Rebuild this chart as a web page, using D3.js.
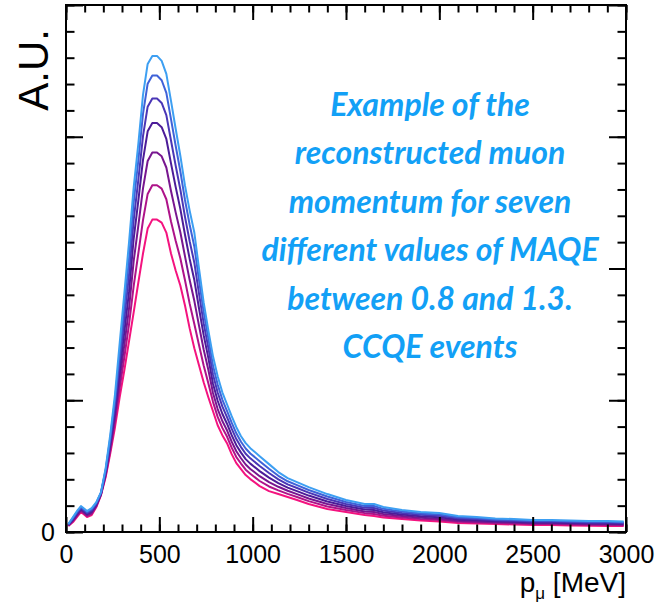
<!DOCTYPE html>
<html>
<head>
<meta charset="utf-8">
<script src="https://cdn.jsdelivr.net/npm/d3@7"></script>
<style>
  html, body { margin: 0; padding: 0; background: #fff; }
  svg { display: block; }
</style>
</head>
<body>
<div id="chart"></div>
<script>
// ---- data (arbitrary units) ----
const momentum = [12.5, 37.5, 62.5, 80, 100, 112.5, 137.5, 162.5, 187.5, 212.5, 237.5, 262.5, 287.5, 312.5, 337.5, 362.5, 387.5, 412.5, 437.5, 462.5, 487.5, 512.5, 537.5, 562.5, 587.5, 612.5, 637.5, 662.5, 687.5, 712.5, 737.5, 762.5, 787.5, 812.5, 837.5, 862.5, 887.5, 912.5, 937.5, 962.5, 987.5, 1037.5, 1087.5, 1137.5, 1187.5, 1237.5, 1300, 1400, 1500, 1600, 1650, 1700, 1800, 1900, 2000, 2100, 2200, 2300, 2400, 2500, 2600, 2700, 2800, 2900, 2987.5];

// MAQE = 0.8 (pink, lowest)
const ma080 = [6, 10, 16, 20, 17, 15, 17, 25, 37, 55, 79, 105, 135, 162, 191, 220, 250, 279, 304, 313, 313, 310, 300, 279, 262, 247, 227, 204, 184, 167, 150, 135, 121, 107, 97, 89, 78, 69, 63, 57, 53, 46, 41, 38, 35, 32, 28, 23, 20, 17, 16, 14.5, 13, 11.5, 10.5, 9, 8.5, 8, 7.5, 7, 7, 6.5, 6.3, 6, 6];
const ma088 = [6.3, 10.9, 17, 21, 18, 16, 18.2, 25.9, 37.5, 56.5, 82.2, 110.6, 144.2, 175.1, 207.8, 246.3, 279.2, 312.4, 338.7, 347.4, 347.4, 344, 333.4, 311.1, 291.8, 274.3, 252.2, 228.8, 208.4, 187.4, 166.8, 149.1, 130.4, 115.3, 104.3, 95.6, 84.5, 75.1, 68.6, 62.4, 58.3, 51.1, 45.6, 41.7, 38.2, 35.1, 30.9, 25.6, 22, 18.9, 18, 16.3, 14.5, 12.9, 11.9, 10.2, 9.6, 8.9, 8.4, 7.9, 7.9, 7.4, 7.1, 6.9, 6.8];
const ma097 = [6.7, 11.7, 18, 22, 19, 17, 19.3, 26.7, 38, 58, 85.3, 116, 152.8, 187.4, 223.7, 271.3, 307, 344.2, 371.7, 380.2, 380.2, 376.4, 365.2, 341.7, 320.2, 300.3, 276.2, 252.4, 231.6, 206.8, 182.8, 162.5, 139.2, 123.2, 111.2, 101.9, 90.5, 80.9, 73.9, 67.6, 63.2, 55.9, 49.9, 45.3, 41.3, 37.9, 33.6, 28, 24, 20.6, 20, 18, 16, 14.3, 13.3, 11.3, 10.6, 9.8, 9.3, 8.7, 8.7, 8.2, 7.9, 7.7, 7.5];
const ma105 = [7, 12.5, 19, 23, 20, 18, 20.5, 27.5, 38.5, 59.5, 88.5, 121.5, 162, 200.5, 240.5, 293.8, 332, 372.8, 401.4, 409.8, 409.8, 405.6, 393.8, 369.3, 345.8, 323.7, 297.8, 273.6, 252.4, 224.2, 197.2, 174.5, 148.5, 131.5, 118.5, 108.5, 97, 87, 79.5, 73, 68.5, 61, 54.5, 49, 44.5, 41, 36.5, 30.5, 26, 22.5, 22, 19.8, 17.5, 15.8, 14.8, 12.5, 11.8, 10.8, 10.3, 9.5, 9.5, 9, 8.7, 8.5, 8.3];
const ma113 = [7.3, 13.4, 20, 24, 21, 19, 21.7, 28.4, 39, 61, 91.7, 127, 171.2, 213.6, 257.3, 312.5, 352.9, 396.7, 426.1, 434.4, 434.4, 429.9, 417.7, 392.2, 367.1, 343.2, 315.8, 291.3, 269.8, 238.8, 209.2, 184.6, 157.9, 139.8, 125.8, 115.1, 103.5, 93.1, 85.1, 78.4, 73.8, 66.1, 59.1, 52.7, 47.7, 44.1, 39.4, 33, 28, 24.4, 24, 21.5, 19, 17.2, 16.2, 13.7, 12.9, 11.7, 11.2, 10.4, 10.4, 9.9, 9.4, 9.4, 9];
const ma122 = [7.7, 14.2, 21, 25, 22, 20, 22.8, 29.2, 39.5, 62.5, 94.8, 132.4, 179.8, 225.9, 273.2, 330, 372.3, 418.9, 449.2, 457.3, 457.3, 452.6, 439.9, 413.6, 387, 361.4, 332.6, 307.8, 286.1, 252.4, 220.4, 194, 166.7, 147.7, 132.7, 121.4, 109.5, 98.9, 90.4, 83.6, 78.7, 70.9, 63.4, 56.3, 50.8, 46.9, 42.1, 35.5, 30, 26.1, 26, 23.2, 20.5, 18.6, 17.6, 14.8, 13.9, 12.6, 12.1, 11.2, 11.2, 10.7, 10.2, 10.2, 9.7];
// MAQE = 1.3 (light blue, highest)
const ma130 = [8, 15, 22, 26, 23, 21, 24, 30, 40, 64, 98, 138, 189, 239, 290, 345, 389, 438, 469, 477, 477, 472, 459, 432, 404, 377, 347, 322, 300, 264, 230, 202, 176, 156, 140, 128, 116, 105, 96, 89, 84, 76, 68, 60, 54, 50, 45, 38, 32, 28, 28, 25, 22, 20, 19, 16, 15, 13.5, 13, 12, 12, 11.5, 11, 11, 10.5];

const seriesValues = [ma080, ma088, ma097, ma105, ma113, ma122, ma130];
const seriesColors = ["#f4137f", "#ae1389", "#78168f", "#4c1c98", "#4a36b6", "#3f62d8", "#3d9ff2"];

const xMajorTicks = [0, 500, 1000, 1500, 2000, 2500, 3000];
const xMinorTicks = d3.range(0, 3001, 100);
const yMajorTicks = [0, 132, 264, 396, 528];
const yMinorTicks = d3.range(0, 529, 26.4);
const yTickLabels = ["0", "", "", "", ""];

const noteLines = ["Example of the", "reconstructed muon", "momentum for seven", "different values of MAQE", "between 0.8 and 1.3.", "CCQE events"];

// ---- layout ----
const W = 664, H = 606;
const mLeft = 66, mRight = 626, mTop = 5, mBottom = 532;

const svg = d3.select("#chart").append("svg").attr("width", W).attr("height", H);

const x = d3.scaleLinear().domain([0, 3000]).range([mLeft, mRight]);
const y = d3.scaleLinear().domain([0, 528]).range([mBottom, mTop]);

const font = "'Liberation Sans', Arial, Helvetica, sans-serif";

// curves
const line = d3.line().x((d, i) => x(momentum[i])).y(d => y(d)).curve(d3.curveLinear);
svg.append("g").selectAll("path").data(seriesValues).join("path")
  .attr("d", d => line(d))
  .attr("fill", "none")
  .attr("stroke", (d, i) => seriesColors[i])
  .attr("stroke-width", 2)
  .attr("stroke-linejoin", "round");

// axes (ticks pointing inward)
function styleAxis(g) {
  g.select(".domain").remove();
  g.selectAll("line").attr("stroke", "#000").attr("stroke-width", 2);
  g.selectAll("text").attr("font-family", font).attr("font-size", 25).attr("fill", "#000");
}
svg.append("g").attr("transform", `translate(0,${mBottom})`)
  .call(d3.axisBottom(x).tickValues(xMinorTicks).tickSize(-7.5).tickFormat(""))
  .call(styleAxis);
svg.append("g").attr("transform", `translate(0,${mBottom})`)
  .call(d3.axisBottom(x).tickValues(xMajorTicks).tickSize(-15).tickPadding(13).tickFormat(d3.format("d")))
  .call(styleAxis);
svg.append("g").attr("transform", `translate(0,${mTop})`)
  .call(d3.axisTop(x).tickValues(xMinorTicks).tickSize(-7.5).tickFormat(""))
  .call(styleAxis);
svg.append("g").attr("transform", `translate(0,${mTop})`)
  .call(d3.axisTop(x).tickValues(xMajorTicks).tickSize(-15).tickFormat(""))
  .call(styleAxis);
svg.append("g").attr("transform", `translate(${mLeft},0)`)
  .call(d3.axisLeft(y).tickValues(yMinorTicks).tickSize(-8.5).tickFormat(""))
  .call(styleAxis);
svg.append("g").attr("transform", `translate(${mLeft},0)`)
  .call(d3.axisLeft(y).tickValues(yMajorTicks).tickSize(-17).tickPadding(11).tickFormat((d, i) => yTickLabels[i]))
  .call(styleAxis);
svg.append("g").attr("transform", `translate(${mRight},0)`)
  .call(d3.axisRight(y).tickValues(yMinorTicks).tickSize(-8.5).tickFormat(""))
  .call(styleAxis);
svg.append("g").attr("transform", `translate(${mRight},0)`)
  .call(d3.axisRight(y).tickValues(yMajorTicks).tickSize(-17).tickFormat(""))
  .call(styleAxis);

// frame
svg.append("rect").attr("x", mLeft).attr("y", mTop).attr("width", mRight - mLeft).attr("height", mBottom - mTop)
  .attr("fill", "none").attr("stroke", "#000").attr("stroke-width", 2);

// axis titles
const xt = svg.append("text").attr("x", mRight).attr("y", 592).attr("text-anchor", "end")
  .attr("font-family", font).attr("font-size", 28).attr("fill", "#000");
xt.append("tspan").text("p");
xt.append("tspan").attr("font-size", 17).attr("dy", 7).text("μ");
xt.append("tspan").attr("dy", -7).text(" [MeV]");

svg.append("text").attr("transform", "translate(48,29) rotate(-90)").attr("text-anchor", "end")
  .attr("font-family", font).attr("font-size", 42).attr("fill", "#000").text("A.U.");

// annotation
svg.append("g").selectAll("text").data(noteLines).join("text")
  .attr("x", 430).attr("y", (d, i) => 116 + i * 48.4)
  .attr("text-anchor", "middle")
  .attr("font-family", "'Segoe Print', 'Comic Sans MS', Lato, sans-serif")
  .attr("font-style", "italic").attr("font-weight", 700)
  .attr("font-size", 32).attr("fill", "#12a0f6")
  .text(d => d);
</script>
</body>
</html>
